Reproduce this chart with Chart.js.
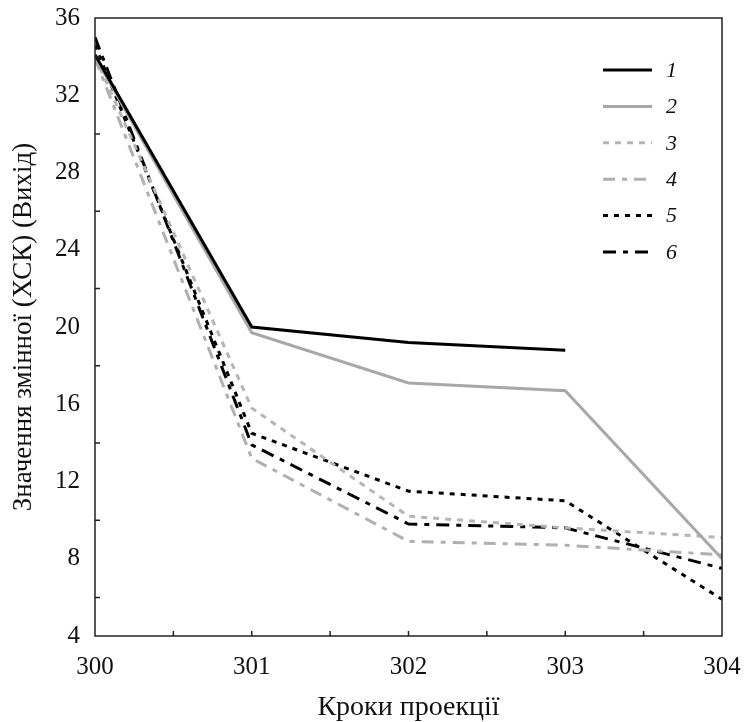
<!DOCTYPE html>
<html>
<head>
<meta charset="utf-8">
<script src="https://cdn.jsdelivr.net/npm/chart.js@4.4.1/dist/chart.umd.min.js"></script>
<style>
  html, body { margin: 0; padding: 0; background: #fff; }
  #wrap { width: 744px; height: 722px; }
</style>
</head>
<body>
<div id="wrap"><canvas id="chart" width="744" height="722"></canvas></div>
<script>
  // Кроки проекції
  var steps = [300, 301, 302, 303, 304];

  // значення серій 1..6
  var series1 = [34.1, 20.0, 19.2, 18.8, null];
  var series2 = [34.0, 19.7, 17.1, 16.7, 8.0];
  var series3 = [34.0, 15.8, 10.2, 9.6, 9.1];
  var series4 = [33.9, 13.2, 8.9, 8.7, 8.2];
  var series5 = [34.6, 14.5, 11.5, 11.0, 5.9];
  var series6 = [35.0, 13.9, 9.8, 9.6, 7.5];

  var seriesLabels = ['1', '2', '3', '4', '5', '6'];
  var yTicks = [4, 8, 12, 16, 20, 24, 28, 32, 36];

  var SERIF = '"Liberation Serif", "DejaVu Serif", serif';

  function points(values) {
    return steps.map(function (s, i) { return { x: s, y: values[i] }; });
  }

  function ds(label, values, color, dash) {
    return {
      label: label,
      data: points(values),
      borderColor: color,
      backgroundColor: color,
      borderWidth: 3,
      borderDash: dash,
      pointRadius: 0,
      fill: false,
      tension: 0,
      spanGaps: false
    };
  }

  // без додаткових відступів від підписів — область графіка задається layout.padding
  function noOverhang(scale) {
    scale.paddingLeft = 0;
    scale.paddingRight = 0;
    scale.paddingTop = 0;
    scale.paddingBottom = 0;
  }

  // рамка, внутрішні засічки та легенда
  var framePlugin = {
    id: 'frame',
    afterDraw: function (chart) {
      var ctx = chart.ctx;
      var a = chart.chartArea;
      var xs = chart.scales.x, ys = chart.scales.y;
      ctx.save();
      ctx.strokeStyle = '#222';
      ctx.lineWidth = 1.5;
      ctx.strokeRect(a.left, a.top, a.right - a.left, a.bottom - a.top);
      ctx.beginPath();
      var v;
      // по осі X — засічки кожні 0.5
      for (v = steps[0] + 0.5; v < steps[steps.length - 1]; v += 0.5) {
        var px = xs.getPixelForValue(v);
        ctx.moveTo(px, a.bottom);
        ctx.lineTo(px, a.bottom - 5);
      }
      // по осі Y — лише між підписами
      for (v = yTicks[0] + 2; v < yTicks[yTicks.length - 1]; v += 4) {
        var py = ys.getPixelForValue(v);
        ctx.moveTo(a.left, py);
        ctx.lineTo(a.left + 5, py);
      }
      ctx.stroke();

      // легенда
      var lx = 603, ly = 70, step = 36.4;
      ctx.font = 'italic 22px ' + SERIF;
      ctx.textBaseline = 'middle';
      ctx.textAlign = 'left';
      chart.data.datasets.forEach(function (d, i) {
        var y = ly + i * step;
        ctx.beginPath();
        ctx.strokeStyle = d.borderColor;
        ctx.lineWidth = d.borderWidth;
        ctx.setLineDash(d.borderDash || []);
        ctx.moveTo(lx, y);
        ctx.lineTo(lx + 49, y);
        ctx.stroke();
        ctx.setLineDash([]);
        ctx.fillStyle = '#111';
        ctx.fillText(d.label, lx + 63, y + 1);
      });
      ctx.restore();
    }
  };

  new Chart(document.getElementById('chart').getContext('2d'), {
    type: 'line',
    data: {
      datasets: [
        ds(seriesLabels[0], series1, '#000000', []),
        ds(seriesLabels[1], series2, '#a8a8a8', []),
        ds(seriesLabels[2], series3, '#b5b5b5', [6, 6]),
        ds(seriesLabels[3], series4, '#b0b0b0', [12, 7, 5, 7]),
        ds(seriesLabels[4], series5, '#000000', [5, 6]),
        ds(seriesLabels[5], series6, '#000000', [13, 7, 5, 7])
      ]
    },
    options: {
      responsive: false,
      animation: false,
      layout: { padding: { left: 0, right: 22, top: 18, bottom: 0 } },
      plugins: { legend: { display: false }, tooltip: { enabled: false } },
      scales: {
        x: {
          type: 'linear',
          min: steps[0],
          max: steps[steps.length - 1],
          grid: { display: false, drawTicks: false },
          border: { display: false },
          ticks: {
            stepSize: 1,
            padding: 16,
            color: '#111',
            font: { family: SERIF, size: 25 },
            callback: function (v) { return String(v); }
          },
          title: {
            display: true,
            text: 'Кроки проекції',
            color: '#111',
            font: { family: SERIF, size: 28, lineHeight: 1 },
            padding: { top: 0, bottom: 0 }
          },
          afterFit: function (scale) { scale.height = 86; noOverhang(scale); }
        },
        y: {
          min: yTicks[0],
          max: yTicks[yTicks.length - 1],
          grid: { display: false, drawTicks: false },
          border: { display: false },
          ticks: {
            stepSize: 4,
            padding: 15,
            color: '#111',
            font: { family: SERIF, size: 25 }
          },
          title: {
            display: true,
            text: 'Значення змінної (ХСК) (Вихід)',
            color: '#111',
            font: { family: SERIF, size: 27, lineHeight: 1 },
            padding: { top: 10, bottom: 0 }
          },
          afterFit: function (scale) { scale.width = 95; noOverhang(scale); }
        }
      }
    },
    plugins: [framePlugin]
  });
</script>
</body>
</html>
